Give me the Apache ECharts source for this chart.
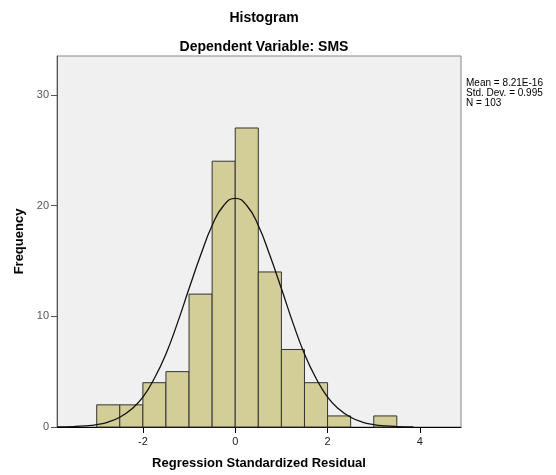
<!DOCTYPE html>
<html>
<head>
<meta charset="utf-8">
<script src="https://cdn.jsdelivr.net/npm/echarts@6/dist/echarts.min.js"></script>
<style>
  html, body { margin: 0; padding: 0; background: #fff; }
  #chart { width: 556px; height: 475px; }
</style>
</head>
<body>
<div id="chart"></div>
<script>
// bins: [start, end]
const binStarts = [-3, -2.5, -2, -1.5, -1, -0.5, 0, 0.5, 1, 1.5, 2, 2.5, 3]
const binWidth = 0.5
const counts = [2, 2, 4, 5, 12, 24, 27, 14, 7, 4, 1, 0, 1]

// normal curve
const curveX = [-3.86, -3.5, -3.25, -3, -2.75, -2.5, -2.25, -2, -1.75, -1.5, -1.25, -1, -0.75, -0.5, -0.25, 0,
    0.25, 0.5, 0.75, 1, 1.25, 1.5, 1.75, 2, 2.25, 2.5, 2.75, 3, 3.25, 3.5, 3.86]
const curveY = [0.01, 0.04, 0.1, 0.22, 0.45, 0.88, 1.6, 2.7, 4.4, 6.6, 9.4, 12.5, 15.5, 18.2, 20.0, 20.65,
    20.0, 18.2, 15.5, 12.5, 9.4, 6.6, 4.4, 2.7, 1.6, 0.88, 0.45, 0.22, 0.1, 0.04, 0.01]

const xTicks = [-2, 0, 2, 4]
const yTicks = [0, 10, 20, 30]
const statsText = ['Mean = 8.21E-16', 'Std. Dev. = 0.995', 'N = 103']

const font = 'Arial, "Liberation Sans", sans-serif'

const barData = binStarts
    .map((s, i) => [s, s + binWidth, counts[i]])
    .filter(d => d[2] > 0)

const chart = echarts.init(document.getElementById('chart'))

chart.setOption({
    animation: false,
    backgroundColor: '#fff',
    title: [
        {
            text: 'Histogram',
            left: 259, top: 6, textAlign: 'center',
            textStyle: { fontFamily: font, fontSize: 14, fontWeight: 'bold', color: '#000' }
        },
        {
            text: 'Dependent Variable: SMS',
            left: 259, top: 35, textAlign: 'center',
            textStyle: { fontFamily: font, fontSize: 14, fontWeight: 'bold', color: '#000' }
        }
    ],
    graphic: [{
        type: 'text',
        left: 466, top: 78,
        style: {
            text: statsText.join('\n'),
            font: '10px ' + font,
            fill: '#000',
            lineHeight: 10
        }
    }],
    grid: {
        left: 57, right: 95, top: 56, bottom: 48,
        show: true,
        backgroundColor: '#F0F0F0',
        borderColor: '#888',
        borderWidth: 1
    },
    xAxis: {
        type: 'value',
        min: -3.86, max: 4.89,
        name: 'Regression Standardized Residual',
        nameLocation: 'middle', nameGap: 30,
        nameTextStyle: { fontFamily: font, fontSize: 13, fontWeight: 'bold', color: '#000' },
        axisLine: { show: true, onZero: false, lineStyle: { color: '#000', width: 1 } },
        axisTick: { show: true, customValues: xTicks, length: 6, lineStyle: { color: '#000' } },
        axisLabel: { customValues: xTicks, fontFamily: font, fontSize: 11, color: '#222', margin: 9 },
        splitLine: { show: false }
    },
    yAxis: {
        type: 'value',
        min: 0, max: 33.5,
        name: 'Frequency',
        nameLocation: 'middle', nameGap: 25, nameRotate: 90,
        nameTextStyle: { fontFamily: font, fontSize: 13, fontWeight: 'bold', color: '#000' },
        axisLine: { show: true, onZero: false, lineStyle: { color: '#555', width: 1 } },
        axisTick: { show: true, customValues: yTicks, length: 6, lineStyle: { color: '#555' } },
        axisLabel: { customValues: yTicks, fontFamily: font, fontSize: 11, color: '#555', margin: 8 },
        splitLine: { show: false }
    },
    series: [
        {
            type: 'custom',
            data: barData,
            renderItem (params, api) {
                const p0 = api.coord([api.value(0), api.value(2)])
                const p1 = api.coord([api.value(1), 0])
                return {
                    type: 'rect',
                    shape: { x: p0[0], y: p0[1], width: p1[0] - p0[0], height: p1[1] - p0[1] },
                    style: { fill: '#D3CE98', stroke: '#333', lineWidth: 1 }
                }
            },
            encode: { x: [0, 1], y: 2 },
            z: 2
        },
        {
            type: 'line',
            data: curveX.map((x, i) => [x, curveY[i]]),
            smooth: true,
            showSymbol: false,
            symbol: 'none',
            lineStyle: { color: '#111', width: 1.3 },
            z: 3
        }
    ]
})
</script>
</body>
</html>
